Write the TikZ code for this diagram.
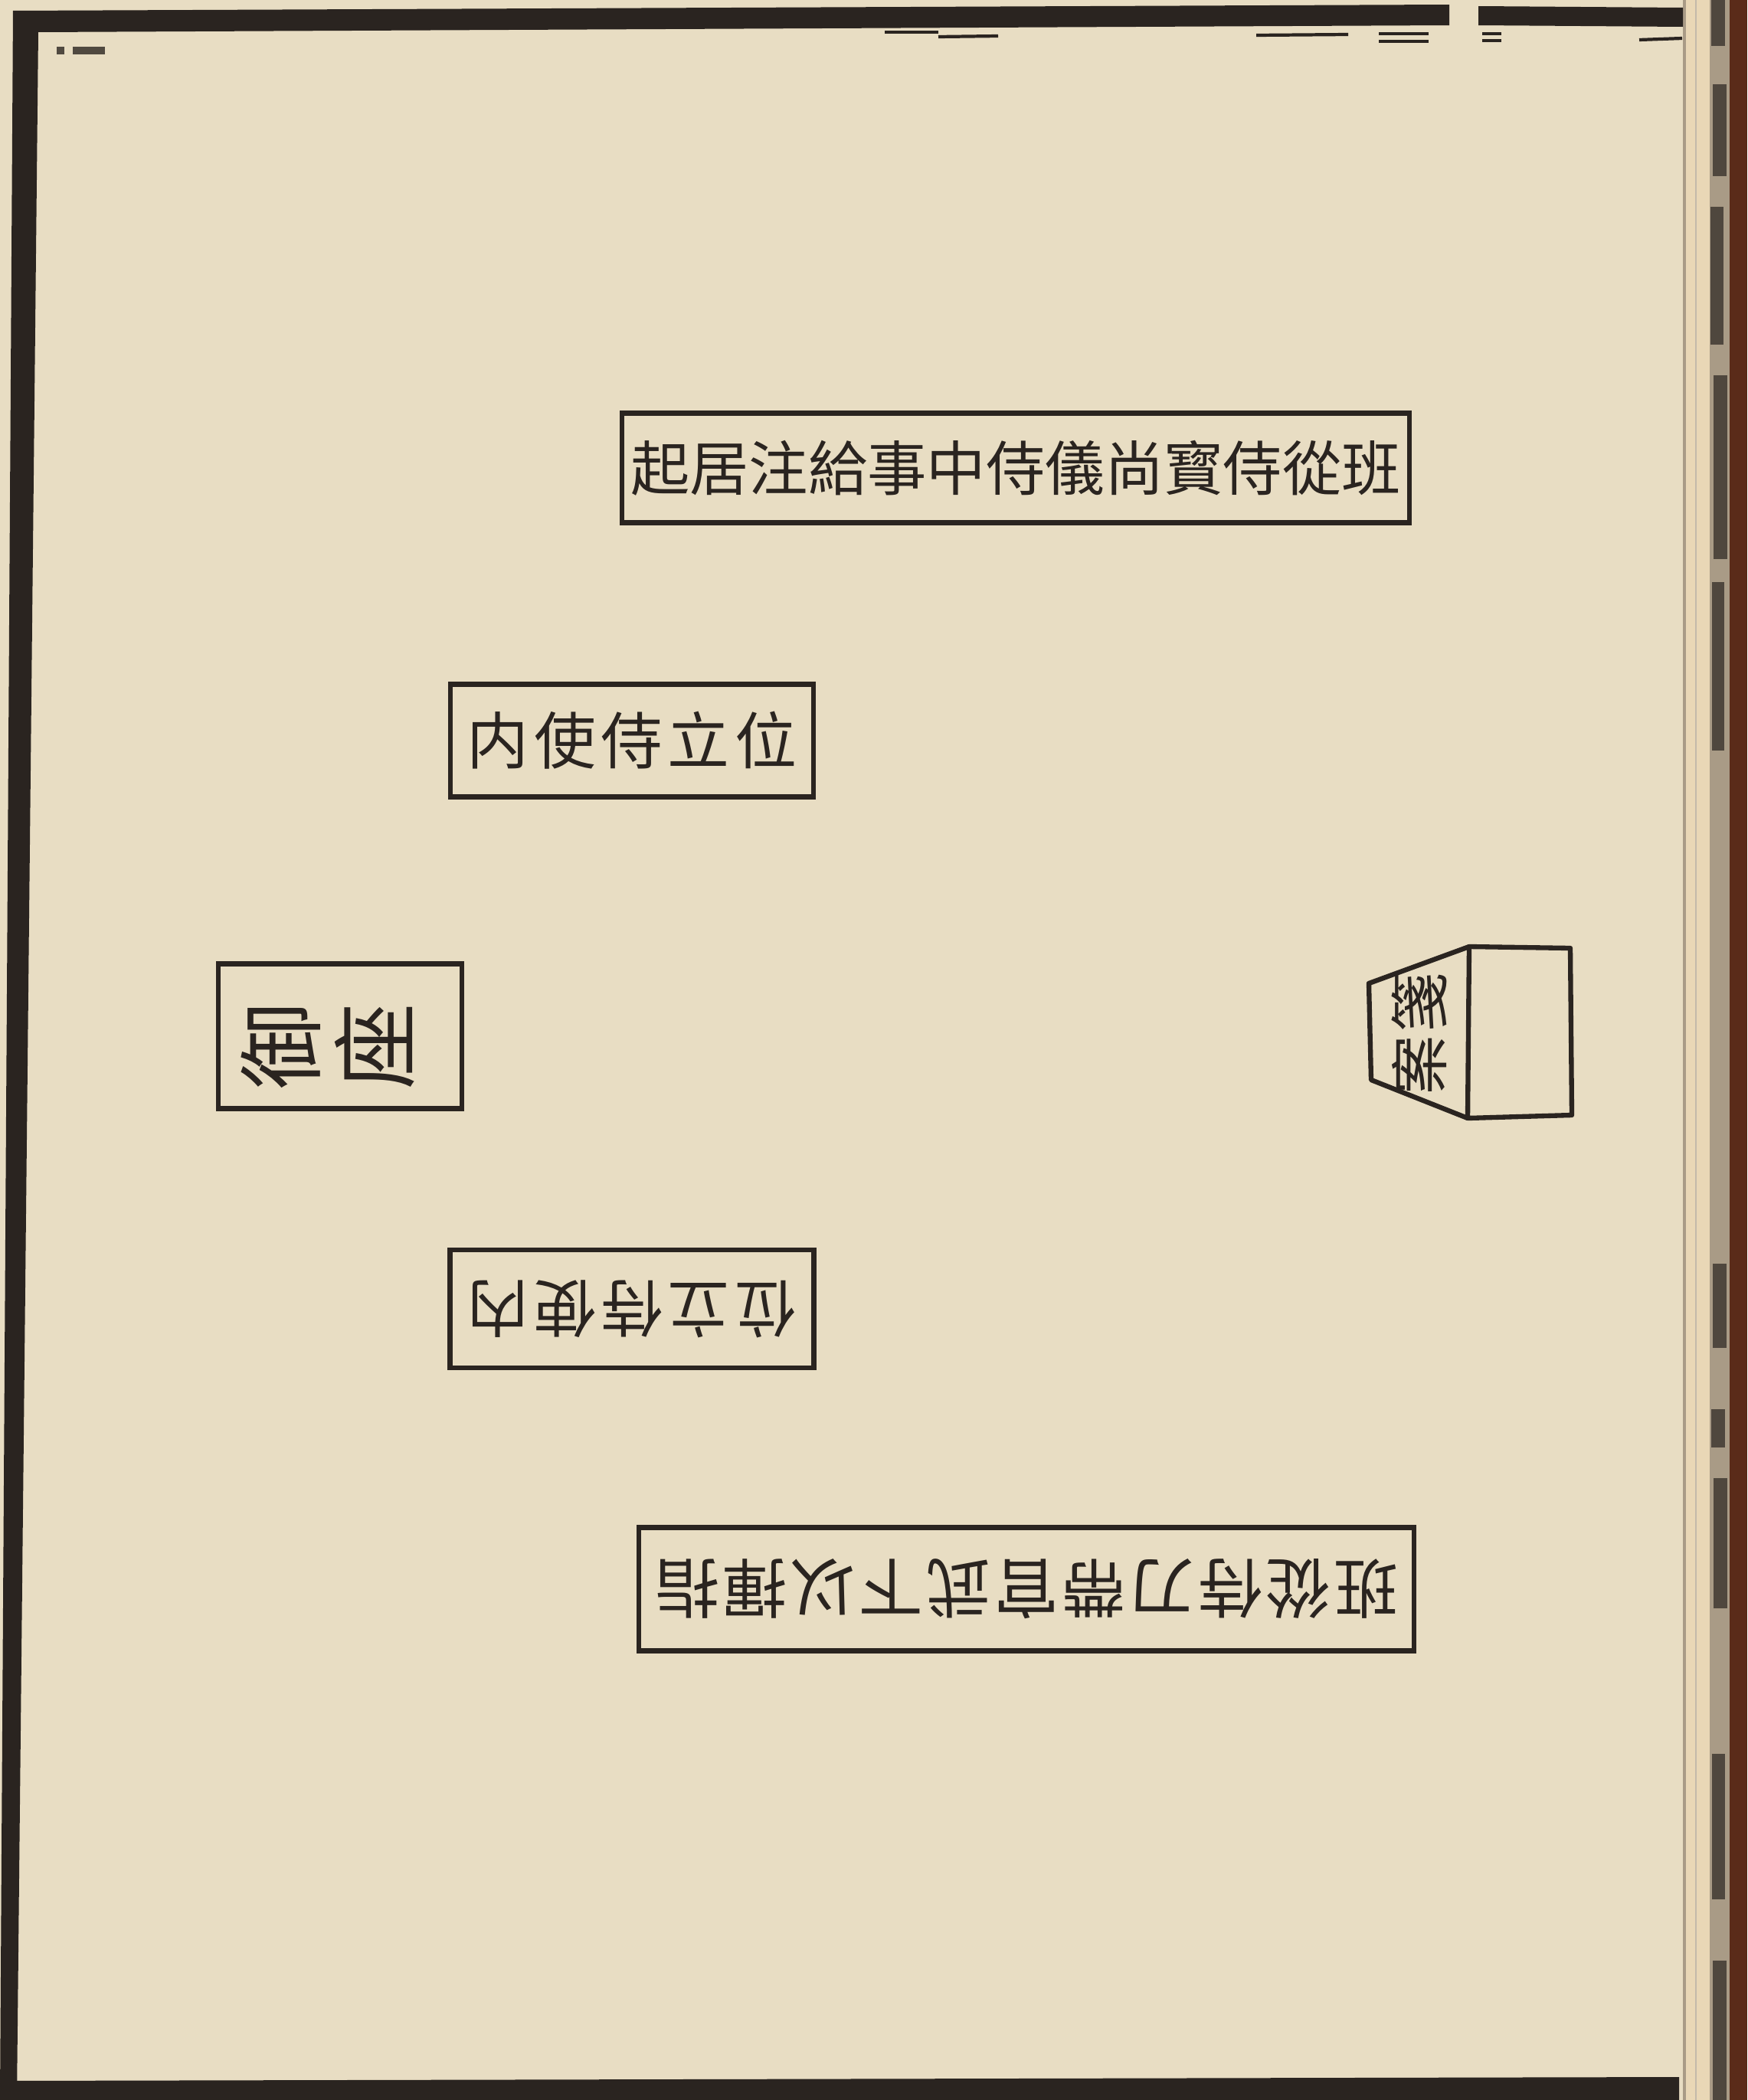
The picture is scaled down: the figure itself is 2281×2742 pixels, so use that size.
\documentclass[tikz,border=0pt]{standalone}
\usepackage{fontspec}
\newfontfamily\cjk{Noto Sans CJK TC}
\definecolor{paper}{HTML}{E8DDC3}
\definecolor{ink}{HTML}{2A2420}
\definecolor{edgecream}{HTML}{E9D7B6}
\definecolor{edgegray}{HTML}{A99B86}
\definecolor{cover}{HTML}{5A2B19}
\newcommand\topfont{\cjk\fontsize{22pt}{24pt}\selectfont}
\newcommand\midfont{\cjk\fontsize{23pt}{25pt}\selectfont\addfontfeature{LetterSpace=8}}
\newcommand\lowfont{\cjk\fontsize{24pt}{26pt}\selectfont\addfontfeature{LetterSpace=5}}
\newcommand\seatfont{\cjk\fontsize{32pt}{35pt}\selectfont}
\newcommand\deskfont{\cjk\fontsize{22pt}{24pt}\selectfont\addfontfeature{LetterSpace=6}}
\begin{document}
\begin{tikzpicture}[x=0.01cm,y=-0.01cm,
  inkbox/.style={draw=ink,line width=1.8pt,inner sep=0pt,outer sep=0pt,text=ink},
  lbl/.style={text=ink,inner sep=0pt,outer sep=0pt},
  inkline/.style={draw=ink,line width=1.8pt,line join=round},
  speck/.style={fill=ink,opacity=0.7}]
\useasboundingbox (0,0) rectangle (2281,2742);
% paper
\fill[paper] (0,0) rectangle (2281,2742);
% page stack at right edge
\fill[edgecream] (2197,0) rectangle (2232,2742);
\draw[color=edgegray,line width=1pt] (2199,0) -- (2199,2742);
\draw[color=edgegray!70,line width=0.6pt] (2214,0) -- (2214,2742);
\fill[edgegray] (2232,0) rectangle (2258,2742);
\fill[cover] (2258,0) rectangle (2281,2742);
\fill[speck] (2234,0) rectangle (2252,60);
\fill[speck] (2236,110) rectangle (2254,230);
\fill[speck] (2233,270) rectangle (2250,450);
\fill[speck] (2237,490) rectangle (2255,730);
\fill[speck] (2235,760) rectangle (2251,980);
\fill[speck] (2236,1650) rectangle (2254,1760);
\fill[speck] (2234,1840) rectangle (2252,1890);
\fill[speck] (2237,1930) rectangle (2255,2100);
\fill[speck] (2235,2290) rectangle (2252,2480);
\fill[speck] (2236,2560) rectangle (2254,2742);
% outer frame
\fill[ink] (17,14) -- (1892,6) -- (1892,33) -- (50,42) -- (22,2742) -- (0,2742) -- cycle;
\fill[ink] (1930,8) -- (2197,10) -- (2197,35) -- (1930,33) -- cycle;
\fill[ink] (0,2717) -- (2192,2712) -- (2192,2742) -- (0,2742) -- cycle;
% small marks under the top frame
\draw[ink,line width=1.2pt] (1155,42) -- (1225,42);
\draw[ink,line width=1.2pt] (1225,48) -- (1303,47);
\draw[ink,line width=1.2pt] (1640,46) -- (1760,45);
\draw[ink,line width=1.2pt] (1800,44) -- (1865,44);
\draw[ink,line width=1.2pt] (1800,54) -- (1865,54);
\draw[ink,line width=1.2pt] (1935,44) -- (1960,44);
\draw[ink,line width=1.2pt] (1935,53) -- (1960,53);
\draw[ink,line width=1.2pt] (2140,52) -- (2196,50);
\fill[ink,opacity=0.8] (74,61) rectangle (84,71);
\fill[ink,opacity=0.8] (95,61) rectangle (137,71);
% top row
\node[inkbox,minimum width=10.27cm,minimum height=1.43cm,font=\topfont] (topbox) at (1326,611) {起居注給事中侍儀尚寳侍從班};
% upper inner attendant
\node[inkbox,minimum width=4.74cm,minimum height=1.47cm,font=\midfont] (upbox) at (825,967) {内使侍立位};
% throne
\node[inkbox,minimum width=3.18cm,minimum height=1.89cm] (seat) at (444,1353) {};
\node[lbl,rotate=90,align=center,font=\seatfont] (seattext) at (428,1366) {御\\座};
% lower inner attendant (inverted)
\node[inkbox,minimum width=4.75cm,minimum height=1.54cm,rotate=180,font=\midfont] (lowbox) at (825,1709) {位立侍使内};
% bottom row (inverted)
\node[inkbox,minimum width=10.11cm,minimum height=1.61cm,rotate=180,font=\lowfont] (botbox) at (1340,2075) {班從侍刀帶官武下以揮指};
% memorial desk drawn as a box
\coordinate (dA) at (1918,1236);
\coordinate (dB) at (2050,1238);
\coordinate (dC) at (2052,1456);
\coordinate (dD) at (1916,1460);
\coordinate (dE) at (1787,1284);
\coordinate (dF) at (1790,1410);
\draw[inkline] (dA) -- (dB) -- (dC) -- (dD) -- cycle;
\draw[inkline] (dA) -- (dE) -- (dF) -- (dD);
\node[lbl,rotate=90,font=\deskfont] (desktext) at (1853,1350) {案箋};
\end{tikzpicture}
\end{document}
